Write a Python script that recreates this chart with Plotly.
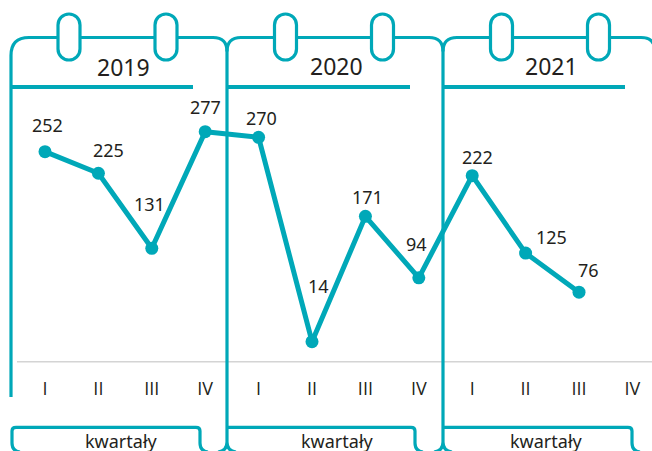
import plotly.graph_objects as go

# ---- data ----
years = ["2019", "2020", "2021"]
quarters = ["I", "II", "III", "IV"]
values = [252, 225, 131, 277, 270, 14, 171, 94, 222, 125, 76]
axis_title = "kwartały"

# label offsets in pixels (dx, dy) relative to each point
label_dx = [2, 10, -2, 0, 3, 6, 2, -2, 5, 26, 9]
label_dy = [-27, -23, -44, -25, -19, -56, -19, -34, -19, -16, -22]

W, H = 652, 451
PLOT_H = 362
TEAL = "#00A8B8"
TEXT = "#231F20"
FONT = "Noto Sans, Open Sans, sans-serif"
TICK_FONT = "Open Sans, sans-serif"

x_idx = list(range(len(values)))
tick_idx = list(range(len(years) * len(quarters)))
tick_text = quarters * len(years)


def P(x, y):
    return f"{x / W:.5f},{(PLOT_H - y) / PLOT_H:.5f}"


def path_shape(d, width=3.2, fill="rgba(0,0,0,0)"):
    return dict(type="path", path=d, xref="paper", yref="paper",
                line=dict(color=TEAL, width=width), fillcolor=fill, layer="below")


shapes = []
# grey baseline
shapes.append(dict(type="line", xref="paper", yref="paper", x0=17 / W, x1=1,
                   y0=(PLOT_H - 361.7) / PLOT_H, y1=(PLOT_H - 361.7) / PLOT_H,
                   line=dict(color="#d4d4d4", width=1.5), layer="below"))

TOP = 37.5
r = 14
# panel 1
shapes.append(path_shape(
    f"M{P(11,397)} L{P(11,TOP+18)} Q{P(11,TOP)} {P(29,TOP)} L{P(227-r,TOP)} "
    f"Q{P(227,TOP)} {P(227,TOP+r)} L{P(227,442)} Q{P(227,451)} {P(218,452)} "
    f"M{P(227,442)} Q{P(227,451)} {P(236,452)}"))
# panel 2
shapes.append(path_shape(
    f"M{P(227,TOP+r)} Q{P(227,TOP)} {P(227+r,TOP)} L{P(443-r,TOP)} "
    f"Q{P(443,TOP)} {P(443,TOP+r)} L{P(443,442)} Q{P(443,451)} {P(434,452)} "
    f"M{P(443,442)} Q{P(443,451)} {P(452,452)}"))
# panel 3
shapes.append(path_shape(
    f"M{P(443,TOP+r)} Q{P(443,TOP)} {P(443+r,TOP)} L{P(655-r,TOP)} "
    f"Q{P(655,TOP)} {P(655,TOP+r)} L{P(655,420)}"))

# header lines
for x0, x1 in [(11, 193), (227, 410), (443, 625)]:
    shapes.append(path_shape(f"M{P(x0,87)} L{P(x1,87)}", width=4))

# rings
k = 6.08
for cx in [69, 166, 285.5, 382.5, 501.5, 598.5]:
    t, b, hw = 14, 60, 11
    d = (f"M{P(cx-hw,t+hw)} C{P(cx-hw,t+hw-k)} {P(cx-k,t)} {P(cx,t)} "
         f"C{P(cx+k,t)} {P(cx+hw,t+hw-k)} {P(cx+hw,t+hw)} "
         f"L{P(cx+hw,b-hw)} C{P(cx+hw,b-hw+k)} {P(cx+k,b)} {P(cx,b)} "
         f"C{P(cx-k,b)} {P(cx-hw,b-hw+k)} {P(cx-hw,b-hw)} Z")
    shapes.append(path_shape(d, width=3.2, fill="white"))

# bottom tabs
TT = 427.3
shapes.append(path_shape(
    f"M{P(20,452)} Q{P(12,451)} {P(12,443)} L{P(12,431)} Q{P(12,TT)} {P(16,TT)} "
    f"L{P(196,TT)} Q{P(200,TT)} {P(200,431)} L{P(200,443)} Q{P(200,451)} {P(208,452)}"))
shapes.append(path_shape(
    f"M{P(227,TT)} L{P(411,TT)} Q{P(415,TT)} {P(415,431)} L{P(415,443)} "
    f"Q{P(415,451)} {P(423,452)}"))
shapes.append(path_shape(
    f"M{P(443,TT)} L{P(628,TT)} Q{P(632,TT)} {P(632,431)} L{P(632,443)} "
    f"Q{P(632,451)} {P(640,452)}"))

annotations = []
for i, v in enumerate(values):
    annotations.append(dict(x=x_idx[i], y=v, xref="x", yref="y", text=str(v),
                            showarrow=False, xshift=label_dx[i], yshift=-label_dy[i],
                            xanchor="center", yanchor="middle",
                            font=dict(family=FONT, size=18, color=TEXT)))
for yr, (cx, cy) in zip(years, [(123, 67), (336, 66), (551, 66)]):
    annotations.append(dict(x=cx / W, y=(PLOT_H - cy) / PLOT_H, xref="paper", yref="paper",
                            text=yr, showarrow=False, xanchor="center", yanchor="middle",
                            font=dict(family=FONT, size=23, color=TEXT)))
for cx in [121, 337, 546]:
    annotations.append(dict(x=cx / W, y=(PLOT_H - 441) / PLOT_H, xref="paper", yref="paper",
                            text=axis_title, showarrow=False, xanchor="center", yanchor="middle",
                            font=dict(family=FONT, size=18, color=TEXT)))

fig = go.Figure()
fig.add_trace(go.Scatter(x=x_idx, y=values, mode="lines+markers",
                         line=dict(color=TEAL, width=5),
                         marker=dict(color=TEAL, size=13),
                         hoverinfo="skip"))

x0 = -45 / 53.4
x1 = (652 - 45) / 53.4
y_per_px = 0.7985
zero_px = 352.9
fig.update_layout(
    width=W, height=H,
    font=dict(family=FONT, color=TEXT),
    margin=dict(l=0, r=0, t=0, b=H - PLOT_H),
    paper_bgcolor="white", plot_bgcolor="rgba(0,0,0,0)",
    showlegend=False,
    shapes=shapes, annotations=annotations,
    xaxis=dict(range=[x0, x1], tickvals=tick_idx, ticktext=tick_text,
               showgrid=False, zeroline=False, showline=False, ticks="",
               ticklabelstandoff=14,
               tickfont=dict(family=TICK_FONT, size=18, color=TEXT)),
    yaxis=dict(range=[(zero_px - PLOT_H) / y_per_px, zero_px / y_per_px],
               visible=False, showgrid=False, zeroline=False),
)
fig.write_html("out.html", config={"displayModeBar": False},
               post_script="document.body.style.margin='0px';document.body.style.padding='0px';")
